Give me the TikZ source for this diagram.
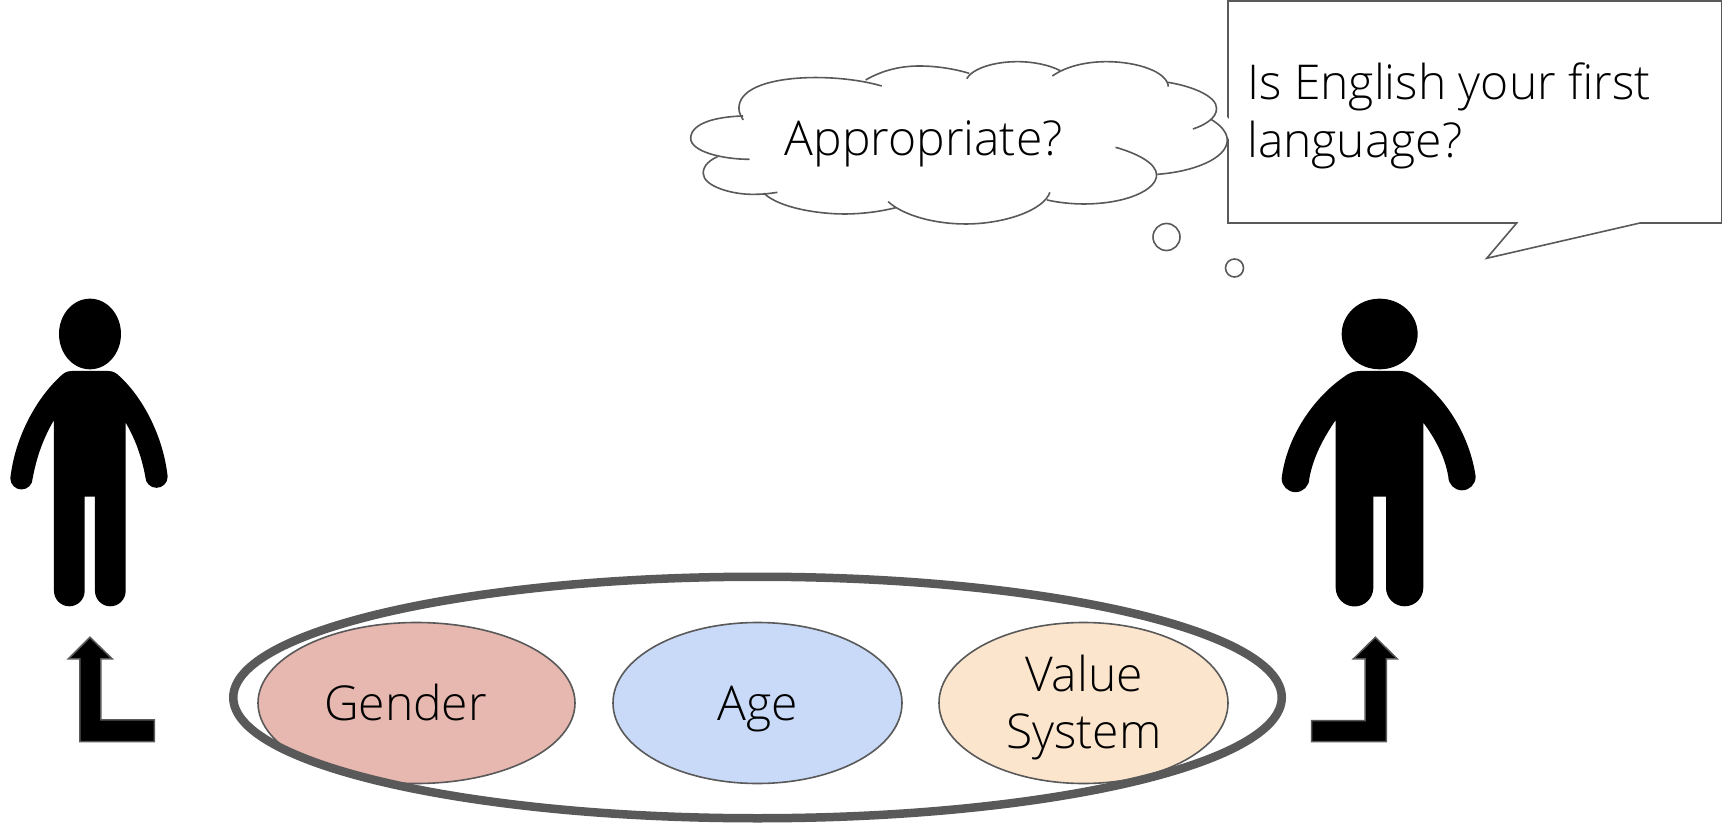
\documentclass[tikz,border=0pt]{standalone}
\usepackage{fontspec}
\setmainfont{Open Sans Light}
\tikzset{
  lbl/.style={inner sep=0pt,font=\fontsize{48}{58}\selectfont,text=black},
  bub/.style={draw=edge,line width=1.6pt},
  oval/.style={ellipse,draw=edge,line width=1.6pt,inner sep=0pt},
  fig/.style={fill=black,draw=none},
  bent/.style={fill=black,draw=edge,line width=1.5pt,miter limit=10},
}
\usetikzlibrary{shapes.geometric}
\definecolor{edge}{HTML}{595959}
\definecolor{rosefill}{HTML}{E6B8AF}
\definecolor{bluefill}{HTML}{C9DAF8}
\definecolor{peachfill}{HTML}{FCE5CD}
\begin{document}
\begin{tikzpicture}[x=1pt,y=-1pt]
\useasboundingbox (0,0) rectangle (1722,826);
\node[oval,fill=rosefill,minimum width=317pt,minimum height=161pt] (gender) at (416.5,703) {};
\node[oval,fill=bluefill,minimum width=289pt,minimum height=161pt] (age) at (757.5,703) {};
\node[oval,fill=peachfill,minimum width=289pt,minimum height=161pt] (value) at (1083.5,703) {};
\node[ellipse,draw=edge,line width=8.5pt,minimum width=1048.5pt,minimum height=241.5pt,inner sep=0pt] (outer) at (757.5,697.5) {};
\node[lbl,anchor=base] (t1) at (405.5,720) {Gender};
\node[lbl,anchor=base] (t2) at (757.5,720) {Age};
\node[lbl,anchor=base,align=center] (t3) at (1084,691) {Value};
\node[lbl,anchor=base,align=center] (t4) at (1084,748.5) {System};
% speech bubble
\draw[bub,fill=white,line join=miter] (1228,1) -- (1722,1) -- (1722,223) -- (1640,223) -- (1486.7,258.3) -- (1516.7,223) -- (1228,223) -- cycle;
\node[lbl,anchor=base west] (s1) at (1247,100) {Is English your first};
\node[lbl,anchor=base west] (s2) at (1247,158) {language?};
% cloud
\begin{scope}[shift={(680,40)},x=0.357pt,y=-0.3333pt]
\fill[white] plot[smooth cycle,tension=.6] coordinates {(170,210)(380,108)(670,78)(945,65)(1195,65)(1500,205)(1533,300)(1335,405)(1130,492)(800,552)(460,522)(210,463)(65,400)(30,295)};
\begin{scope}[bub]
\draw (565,138) .. controls (430,95) and (165,100) .. (165,205) .. controls (165,220) and (172,230) .. (177,240);
\draw (177,228) .. controls (100,230) and (30,250) .. (30,295) .. controls (30,335) and (120,358) .. (195,358);
\draw (105,350) .. controls (85,360) and (65,375) .. (65,400) .. controls (65,440) and (150,465) .. (210,463) .. controls (235,463) and (255,460) .. (273,457);
\draw (235,460) .. controls (280,505) and (390,522) .. (460,522) .. controls (510,522) and (560,515) .. (605,503);
\draw (583,485) .. controls (630,530) and (720,552) .. (800,552) .. controls (910,552) and (1020,510) .. (1036,457);
\draw (1028,480) .. controls (1060,488) and (1100,492) .. (1130,492) .. controls (1250,492) and (1335,450) .. (1335,405) .. controls (1335,370) and (1280,340) .. (1220,322);
\draw (1337,403) .. controls (1440,395) and (1533,355) .. (1533,300) .. controls (1533,275) and (1510,252) .. (1487,238);
\draw (1367,127) .. controls (1440,140) and (1503,170) .. (1503,205) .. controls (1503,235) and (1470,255) .. (1437,267);
\draw (1043,108) .. controls (1080,80) and (1135,65) .. (1195,65) .. controls (1280,65) and (1365,95) .. (1368,140);
\draw (803,116) .. controls (820,85) and (880,65) .. (945,65) .. controls (990,65) and (1035,75) .. (1065,92);
\draw (520,120) .. controls (560,95) and (610,78) .. (670,78) .. controls (720,78) and (770,87) .. (810,100);
\end{scope}
\end{scope}
\node[lbl,anchor=base west] (c1) at (784.5,156) {Appropriate?};
\node[circle,draw=edge,line width=1.6pt,minimum size=27pt,inner sep=0pt] (d1) at (1166.5,237) {};
\node[circle,draw=edge,line width=1.6pt,minimum size=18pt,inner sep=0pt] (d2) at (1234.5,268) {};
% left person
\begin{scope}[shift={(0,290)},x=0.3333pt,y=-0.3333pt]
\fill[fig] (270,132) ellipse [x radius=93,y radius=106];
\fill[fig] (215,243) -- (325,243) .. controls (340,243) and (350,250) .. (360,260) .. controls (430,325) and (490,440) .. (503,560)
  arc[start angle=0,end angle=180,radius=33.5] .. controls (425,500) and (405,445) .. (377,398) -- (377,903)
  arc[start angle=0,end angle=180,radius=46] -- (285,620) -- (254,620) -- (254,903)
  arc[start angle=0,end angle=180,radius=46] -- (162,390) .. controls (130,445) and (110,500) .. (98,565)
  arc[start angle=0,end angle=180,radius=33.5] .. controls (45,440) and (110,325) .. (180,260) .. controls (190,250) and (200,243) .. (215,243) -- cycle;
\draw[bent] (270,1042) -- (337,1107) -- (303,1107) -- (303,1290) -- (463,1290) -- (463,1355) -- (240,1355) -- (240,1107) -- (205,1107) -- cycle;
\end{scope}
% right person
\begin{scope}[shift={(1270,290)},x=0.3333pt,y=-0.3333pt]
\fill[fig] (329,132) ellipse [x radius=114,y radius=106];
\fill[fig] (270,243) -- (390,243) .. controls (410,243) and (425,250) .. (440,262) .. controls (530,325) and (600,440) .. (617,560)
  arc[start angle=0,end angle=180,radius=41] .. controls (525,500) and (495,445) .. (460,398) -- (460,893)
  arc[start angle=0,end angle=180,radius=56] -- (348,620) -- (310,620) -- (310,893)
  arc[start angle=0,end angle=180,radius=56.5] -- (197,390) .. controls (160,445) and (130,500) .. (118,565)
  arc[start angle=0,end angle=180,radius=41.5] .. controls (50,440) and (130,325) .. (220,262) .. controls (235,250) and (250,243) .. (270,243) -- cycle;
\draw[bent] (316,1042) -- (382,1107) -- (349,1107) -- (349,1355) -- (125,1355) -- (125,1292) -- (285,1292) -- (285,1107) -- (250,1107) -- cycle;
\end{scope}
\end{tikzpicture}
\end{document}
